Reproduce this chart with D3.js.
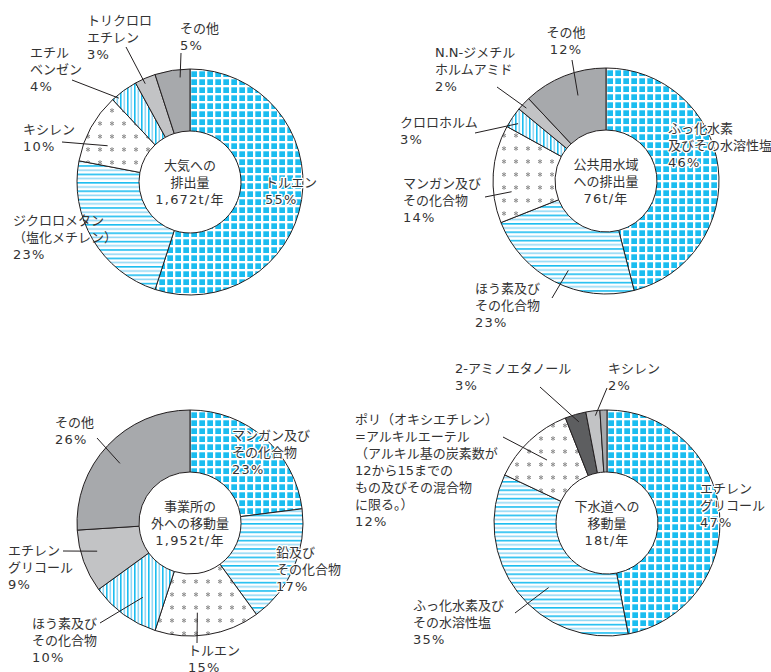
<!DOCTYPE html>
<html><head><meta charset="utf-8">
<script src="https://cdn.jsdelivr.net/npm/d3@7"></script>
<style>body{margin:0;background:#fff}</style>
</head><body>
<svg id="c" width="771" height="672"></svg>
<script>
// ---------- data ----------
const airCategories = ["トルエン","ジクロロメタン\n（塩化メチレン）","キシレン","エチル\nベンゼン","トリクロロ\nエチレン","その他"];
const airValues = [55,23,10,4,3,5];
const waterCategories = ["ふっ化水素\n及びその水溶性塩","ほう素及び\nその化合物","マンガン及び\nその化合物","クロロホルム","N.N-ジメチル\nホルムアミド","その他"];
const waterValues = [46,23,14,3,2,12];
const transferCategories = ["マンガン及び\nその化合物","鉛及び\nその化合物","トルエン","ほう素及び\nその化合物","エチレン\nグリコール","その他"];
const transferValues = [23,17,15,10,9,26];
const sewerCategories = ["エチレン\nグリコール","ふっ化水素及び\nその水溶性塩","ポリ（オキシエチレン）\n=アルキルエーテル\n（アルキル基の炭素数が\n12から15までの\nもの及びその混合物\nに限る。）","2-アミノエタノール","キシレン","その他"];
const sewerValues = [47,35,12,3,2,1];
const centerTitles = ["大気への\n排出量\n1,672t/年","公共用水域\nへの排出量\n76t/年","事業所の\n外への移動量\n1,952t/年","下水道への\n移動量\n18t/年"];

// ---------- styles / layout ----------
const CYAN = "#1bbdf0", LCYAN = "#92d8f5";
const fillMap = {grid:"url(#pGrid)", h:"url(#pH)", v:"url(#pV)", stars:"url(#pStar)", gray:"#a7a9ac", lgray:"#c2c3c5", dgray:"#5d5e60"};
const charts = [
  {cats: airCategories, vals: airValues, title: centerTitles[0], cx:190, cy:182,
   fills:["grid","h","stars","v","lgray","gray"],
   labels:[
     {x:265,y:187,halo:true},
     {x:13,y:225},
     {x:23,y:134,lead:[62,142,0.36,90]},
     {x:30,y:57,lead:[72,80,0.2,110]},
     {x:87,y:25,lead:[126,47,0.4,108]},
     {x:180,y:33,lead:[181,53,0.7,105]}
   ]},
  {cats: waterCategories, vals: waterValues, title: centerTitles[1], cx:606, cy:181,
   fills:["grid","h","stars","v","lgray","gray"],
   labels:[
     {x:668,y:133,halo:true},
     {x:475,y:293,lead:[552,298,0.45,97]},
     {x:403,y:188,lead:[485,197,0.3,95]},
     {x:400,y:127,lead:[475,133,0.4,105]},
     {x:435,y:57,lead:[497,87,0.4,108]},
     {x:566,y:37,anchor:"middle",lead:[572,60,0.58,90]}
   ]},
  {cats: transferCategories, vals: transferValues, title: centerTitles[2], cx:190, cy:523,
   fills:["grid","h","stars","v","lgray","gray"],
   labels:[
     {x:232,y:440,halo:true},
     {x:276,y:557,halo:true},
     {x:188,y:655,lead:[197,643,0.58,90]},
     {x:32,y:628,lead:[100,623,0.4,88]},
     {x:8,y:555,lead:[63,551,0.59,97]},
     {x:55,y:427,lead:[97,438,0.47,92]}
   ]},
  {cats: sewerCategories, vals: sewerValues, title: centerTitles[3], cx:607, cy:523,
   fills:["grid","h","stars","dgray","lgray","gray"],
   labels:[
     {x:700,y:493,halo:true},
     {x:413,y:610,lead:[515,613,0.42,87]},
     {x:355,y:424,lead:[503,437,0.49,87]},
     {x:455,y:373,lead:[540,387,0.56,105]},
     {x:608,y:373,lead:[607,388,0.64,108]},
     null
   ]}
];
const R_OUT = 113, R_IN = 51, LH = 17;
const FONT = "'DejaVu Sans','Noto Sans CJK JP',sans-serif";
const numLine = /^[0-9.,%t\/年]+$/;

const svg = d3.select("#c");
const defs = svg.append("defs");
// grid pattern
const pg = defs.append("pattern").attr("id","pGrid").attr("patternUnits","userSpaceOnUse").attr("width",8).attr("height",8);
pg.append("rect").attr("width",8).attr("height",8).attr("fill","#fff");
pg.append("rect").attr("x",1.3).attr("y",1.3).attr("width",5.7).attr("height",5.7).attr("fill",CYAN);
// horizontal stripes
const ph = defs.append("pattern").attr("id","pH").attr("patternUnits","userSpaceOnUse").attr("width",8).attr("height",8.4);
ph.append("rect").attr("width",8).attr("height",8.4).attr("fill","#fff");
ph.append("rect").attr("y",0).attr("width",8).attr("height",1.6).attr("fill",CYAN);
ph.append("rect").attr("y",4.2).attr("width",8).attr("height",1.6).attr("fill",LCYAN);
// vertical stripes
const pv = defs.append("pattern").attr("id","pV").attr("patternUnits","userSpaceOnUse").attr("width",7).attr("height",8);
pv.append("rect").attr("width",7).attr("height",8).attr("fill","#fff");
pv.append("rect").attr("x",0).attr("width",1.6).attr("height",8).attr("fill",CYAN);
pv.append("rect").attr("x",3.5).attr("width",1.6).attr("height",8).attr("fill",LCYAN);
// stars
const ps = defs.append("pattern").attr("id","pStar").attr("patternUnits","userSpaceOnUse").attr("width",12).attr("height",13);
ps.append("rect").attr("width",12).attr("height",13).attr("fill","#fff");
[0,60,120].forEach(a=>{
  const r=2.3, t=a*Math.PI/180;
  ps.append("line").attr("x1",6-r*Math.sin(t)).attr("y1",6.5-r*Math.cos(t))
    .attr("x2",6+r*Math.sin(t)).attr("y2",6.5+r*Math.cos(t))
    .attr("stroke","#8c8c8c").attr("stroke-width",1);
});

const pie = d3.pie().sort(null).value(d=>d);
const arc = d3.arc().innerRadius(R_IN).outerRadius(R_OUT);

function addLine(t, s, x, y){
  const sp = t.append("tspan").attr("x",x).attr("y",y).text(s);
  if(numLine.test(s)) sp.attr("letter-spacing",1.2);
}

charts.forEach(ch=>{
  const g = svg.append("g").attr("transform",`translate(${ch.cx},${ch.cy})`);
  const arcs = pie(ch.vals);
  g.selectAll("path").data(arcs).join("path")
    .attr("d",arc)
    .attr("fill",(d,i)=>fillMap[ch.fills[i]])
    .attr("stroke","#231f20").attr("stroke-width",1);
  // leader lines
  arcs.forEach((a,i)=>{
    const L = ch.labels[i];
    if(!L || !L.lead) return;
    const [x1,y1,f,r] = L.lead;
    const ang = a.startAngle + f*(a.endAngle-a.startAngle);
    const x2 = ch.cx + r*Math.sin(ang), y2 = ch.cy - r*Math.cos(ang);
    svg.append("line").attr("x1",x1).attr("y1",y1).attr("x2",x2).attr("y2",y2)
      .attr("stroke","#231f20").attr("stroke-width",1);
  });
  // labels
  arcs.forEach((a,i)=>{
    const L = ch.labels[i];
    if(!L) return;
    const lines = ch.cats[i].split("\n").concat([ch.vals[i]+"%"]);
    lines.forEach((s,k)=>{
      const t = svg.append("text").attr("font-family",FONT).attr("font-size",13)
        .attr("fill","#333").attr("text-anchor",L.anchor||"start");
      if(L.halo) t.attr("stroke","#fff").attr("stroke-width",2.5).attr("paint-order","stroke").attr("stroke-linejoin","round");
      addLine(t, s, L.x, L.y+k*LH);
    });
  });
  // center title
  ch.title.split("\n").forEach((s,k)=>{
    const ct = svg.append("text").attr("font-family",FONT).attr("font-size",13)
      .attr("fill","#333").attr("text-anchor","middle");
    addLine(ct, s, ch.cx, ch.cy-12+k*LH);
  });
});
</script>
</body></html>
